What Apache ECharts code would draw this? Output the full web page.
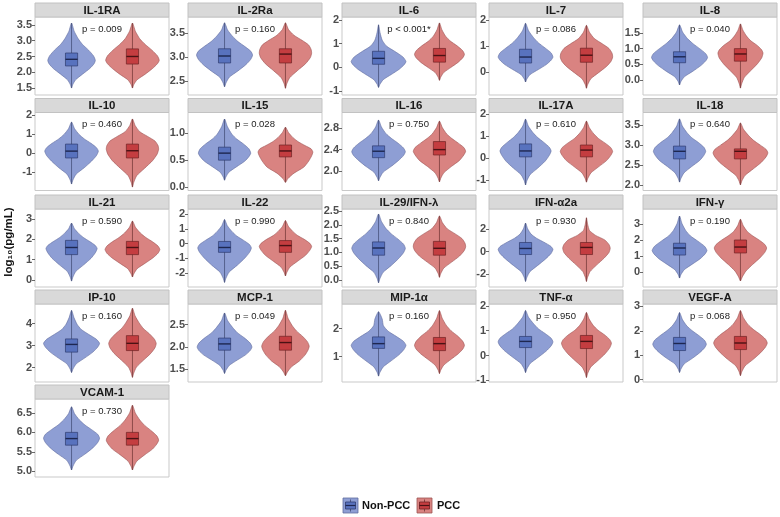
<!DOCTYPE html>
<html><head><meta charset="utf-8">
<script src="https://cdn.jsdelivr.net/npm/echarts@6/dist/echarts.min.js"></script>
<style>html,body{margin:0;padding:0;background:#fff}#c{width:780px;height:517px}</style>
</head><body><div id="c"></div>
<script>
const panels = ['IL-1RA','IL-2Ra','IL-6','IL-7','IL-8','IL-10','IL-15','IL-16','IL-17A','IL-18','IL-21','IL-22','IL-29/IFN-λ','IFN-α2a','IFN-γ','IP-10','MCP-1','MIP-1α','TNF-α','VEGF-A','VCAM-1'];
const pLabels = ['p = 0.009','p = 0.160','p < 0.001*','p = 0.086','p = 0.040','p = 0.460','p = 0.028','p = 0.750','p = 0.610','p = 0.640','p = 0.590','p = 0.990','p = 0.840','p = 0.930','p = 0.190','p = 0.160','p = 0.049','p = 0.160','p = 0.950','p = 0.068','p = 0.730'];
const groups = ['Non-PCC','PCC'];
const groupX = [1, 2];
const yMin = [1.28,2.21,-1.17,-0.88,-0.48,-1.97,-0.06,1.64,-1.48,1.86,-0.34,-2.95,-0.25,-3.16,-0.94,1.34,1.22,0.09,-1.07,-0.1,4.85];
const yMax = [3.75,3.83,2.13,2.12,2.01,2.13,1.38,3.09,2.07,3.81,3.49,2.34,2.57,3.78,3.94,4.89,2.96,2.875,2.08,3.1,6.86];
const yTickLabels = [
 ['1.5','2.0','2.5','3.0','3.5'],['2.5','3.0','3.5'],['-1','0','1','2'],['0','1','2'],['0.0','0.5','1.0','1.5'],
 ['-1','0','1','2'],['0.0','0.5','1.0'],['2.0','2.4','2.8'],['-1','0','1','2'],['2.0','2.5','3.0','3.5'],
 ['0','1','2','3'],['-2','-1','0','1','2'],['0.0','0.5','1.0','1.5','2.0','2.5'],['-2','0','2'],['0','1','2','3'],
 ['2','3','4'],['1.5','2.0','2.5'],['1','2'],['-1','0','1','2'],['0','1','2','3'],['5.0','5.5','6.0','6.5']
];
// violin outlines: log10 levels (bottom tip -> top tip) and half-widths, Non-PCC
const nonLevels = [
 [1.5,1.61,1.76,1.94,2.12,2.27,2.38,2.52,2.70,2.88,3.06,3.30,3.56],
 [2.38,2.46,2.58,2.71,2.84,2.95,3.04,3.12,3.22,3.32,3.43,3.56,3.71],
 [-0.85,-0.72,-0.52,-0.30,-0.08,0.11,0.25,0.44,0.67,0.90,1.15,1.46,1.8],
 [-0.38,-0.26,-0.09,0.10,0.29,0.46,0.58,0.74,0.93,1.13,1.33,1.59,1.88],
 [-0.16,-0.05,0.10,0.28,0.46,0.61,0.72,0.84,1.0,1.16,1.32,1.53,1.76],
 [-1.63,-1.42,-1.11,-0.77,-0.42,-0.13,0.1,0.28,0.51,0.74,0.99,1.29,1.63],
 [0.13,0.19,0.28,0.38,0.48,0.565,0.63,0.71,0.80,0.89,0.98,1.12,1.26],
 [1.82,1.88,1.98,2.09,2.2,2.29,2.36,2.43,2.52,2.61,2.7,2.82,2.95],
 [-1.23,-1.04,-0.77,-0.46,-0.15,0.12,0.32,0.49,0.71,0.93,1.16,1.45,1.77],
 [2.07,2.16,2.3,2.46,2.61,2.74,2.84,2.94,3.06,3.18,3.31,3.47,3.65],
 [-0.05,0.14,0.43,0.75,1.07,1.34,1.55,1.7,1.89,2.08,2.28,2.53,2.8],
 [-2.64,-2.36,-1.94,-1.47,-1.0,-0.6,-0.3,-0.07,0.22,0.51,0.82,1.21,1.63],
 [-0.1,0.05,0.28,0.53,0.78,0.99,1.15,1.3,1.48,1.67,1.87,2.12,2.39],
 [-2.67,-2.33,-1.81,-1.24,-0.66,-0.17,0.2,0.48,0.83,1.18,1.55,2.02,2.53],
 [-0.38,-0.17,0.14,0.49,0.83,1.13,1.35,1.61,1.93,2.25,2.6,3.03,3.5],
 [1.77,1.93,2.17,2.44,2.7,2.93,3.1,3.28,3.51,3.73,3.97,4.27,4.6],
 [1.41,1.48,1.59,1.71,1.82,1.92,2.0,2.09,2.21,2.32,2.44,2.59,2.76],
 [0.3,0.43,0.63,0.85,1.07,1.26,1.4,1.54,1.72,1.9,2.1,2.34,2.6],
 [-0.69,-0.54,-0.32,-0.07,0.18,0.39,0.55,0.7,0.89,1.08,1.29,1.54,1.82],
 [0.29,0.43,0.64,0.87,1.1,1.3,1.45,1.61,1.8,2.0,2.2,2.46,2.75],
 [5.03,5.13,5.28,5.44,5.60,5.74,5.85,5.95,6.07,6.19,6.32,6.48,6.66]
];
const nonWidths = [
 [0,0.02,0.066,0.18,0.30,0.37,0.39,0.36,0.28,0.18,0.11,0.043,0],
 [0,0.023,0.078,0.22,0.35,0.43,0.46,0.43,0.33,0.22,0.13,0.05,0],
 [0,0.022,0.077,0.21,0.34,0.42,0.45,0.40,0.27,0.13,0.06,0.025,0],
 [0,0.022,0.077,0.21,0.34,0.42,0.45,0.42,0.32,0.21,0.13,0.05,0],
 [0,0.023,0.078,0.22,0.35,0.43,0.46,0.43,0.33,0.22,0.13,0.05,0],
 [0,0.022,0.075,0.21,0.33,0.41,0.44,0.41,0.32,0.21,0.12,0.048,0],
 [0,0.022,0.073,0.2,0.33,0.40,0.43,0.40,0.31,0.2,0.12,0.047,0],
 [0,0.022,0.075,0.21,0.33,0.41,0.44,0.41,0.32,0.21,0.12,0.048,0],
 [0,0.021,0.071,0.2,0.32,0.39,0.42,0.39,0.30,0.2,0.12,0.046,0],
 [0,0.022,0.073,0.2,0.33,0.40,0.43,0.40,0.31,0.2,0.12,0.047,0],
 [0,0.021,0.071,0.2,0.32,0.39,0.42,0.39,0.30,0.2,0.12,0.046,0],
 [0,0.022,0.075,0.21,0.33,0.41,0.44,0.41,0.31,0.2,0.12,0.045,0],
 [0,0.022,0.075,0.21,0.33,0.41,0.44,0.41,0.32,0.21,0.12,0.048,0],
 [0,0.02,0.07,0.2,0.33,0.42,0.45,0.41,0.3,0.18,0.09,0.035,0],
 [0,0.022,0.077,0.21,0.34,0.42,0.45,0.41,0.3,0.18,0.1,0.04,0],
 [0,0.023,0.078,0.22,0.35,0.43,0.46,0.41,0.28,0.16,0.09,0.04,0],
 [0,0.022,0.077,0.21,0.34,0.42,0.45,0.42,0.32,0.21,0.13,0.05,0],
 [0,0.022,0.077,0.21,0.34,0.42,0.45,0.41,0.29,0.16,0.08,0.06,0],
 [0,0.022,0.077,0.21,0.34,0.42,0.45,0.42,0.32,0.21,0.13,0.05,0],
 [0,0.022,0.075,0.21,0.33,0.41,0.44,0.41,0.32,0.21,0.12,0.048,0],
 [0,0.023,0.078,0.22,0.35,0.43,0.46,0.43,0.33,0.22,0.13,0.05,0]
];
// box: [q1, median, q3]
const nonBox = [
 [2.2,2.41,2.61],[2.875,3.02,3.17],[0.13,0.38,0.68],[0.35,0.58,0.88],[0.55,0.74,0.9],
 [-0.26,0.1,0.47],[0.5,0.63,0.74],[2.25,2.37,2.47],[0.05,0.32,0.64],[2.65,2.84,2.97],
 [1.25,1.6,1.95],[-0.6,-0.27,0.14],[0.9,1.16,1.38],[-0.27,0.27,0.8],[1.06,1.5,1.8],
 [2.7,3.05,3.3],[1.93,2.07,2.2],[1.29,1.46,1.7],[0.32,0.57,0.77],[1.19,1.48,1.73],[5.67,5.84,6.0]
];
const pccLevels = [
 [1.5,1.61,1.76,1.94,2.12,2.27,2.38,2.52,2.70,2.88,3.06,3.30,3.56],
 [2.35,2.44,2.57,2.72,2.86,2.99,3.08,3.16,3.25,3.34,3.45,3.57,3.71],
 [-0.55,-0.42,-0.22,0,0.22,0.41,0.55,0.71,0.91,1.11,1.32,1.59,1.88],
 [-0.62,-0.48,-0.26,-0.02,0.22,0.42,0.58,0.73,0.91,1.09,1.29,1.53,1.8],
 [-0.26,-0.13,0.08,0.30,0.52,0.71,0.86,0.97,1.11,1.25,1.4,1.59,1.79],
 [-1.79,-1.55,-1.19,-0.80,-0.40,-0.06,0.2,0.39,0.63,0.87,1.12,1.44,1.79],
 [0.09,0.16,0.26,0.37,0.48,0.58,0.65,0.71,0.77,0.84,0.92,1.01,1.11],
 [1.8,1.87,1.97,2.09,2.2,2.3,2.37,2.44,2.52,2.61,2.69,2.81,2.93],
 [-1.1,-0.93,-0.68,-0.4,-0.12,0.12,0.3,0.47,0.67,0.88,1.1,1.38,1.68],
 [2.0,2.1,2.24,2.4,2.56,2.7,2.8,2.89,3.0,3.12,3.24,3.39,3.55],
 [0.15,0.31,0.56,0.83,1.1,1.32,1.5,1.67,1.88,2.09,2.31,2.59,2.9],
 [-2.2,-1.96,-1.6,-1.2,-0.8,-0.46,-0.2,0.01,0.28,0.54,0.82,1.17,1.56],
 [0.1,0.23,0.43,0.65,0.87,1.06,1.2,1.33,1.5,1.67,1.85,2.07,2.32],
 [-2.67,-2.31,-1.78,-1.19,-0.59,-0.09,0.3,0.62,1.03,1.43,1.87,2.41,3.0],
 [-0.56,-0.31,0.06,0.47,0.88,1.23,1.5,1.72,1.99,2.26,2.54,2.9,3.3],
 [1.55,1.74,2.02,2.33,2.64,2.9,3.1,3.29,3.53,3.77,4.03,4.35,4.7],
 [1.36,1.44,1.56,1.69,1.82,1.93,2.02,2.12,2.24,2.36,2.48,2.64,2.82],
 [0.39,0.51,0.69,0.9,1.1,1.27,1.4,1.55,1.73,1.92,2.12,2.37,2.64],
 [-0.89,-0.72,-0.47,-0.2,0.08,0.32,0.5,0.65,0.83,1.02,1.22,1.47,1.74],
 [0.16,0.32,0.56,0.83,1.1,1.33,1.5,1.66,1.86,2.06,2.27,2.54,2.83],
 [5.03,5.12,5.26,5.42,5.57,5.70,5.8,5.91,6.04,6.18,6.32,6.5,6.7]
];
const pccWidths = [
 [0,0.022,0.075,0.21,0.33,0.41,0.44,0.41,0.32,0.21,0.12,0.048,0],
 [0,0.02,0.07,0.2,0.33,0.41,0.43,0.42,0.38,0.28,0.14,0.05,0],
 [0,0.02,0.07,0.19,0.31,0.385,0.41,0.38,0.29,0.18,0.1,0.04,0],
 [0,0.02,0.07,0.2,0.33,0.405,0.43,0.42,0.37,0.26,0.13,0.05,0],
 [0,0.018,0.063,0.17,0.28,0.35,0.37,0.345,0.27,0.17,0.1,0.04,0],
 [0,0.02,0.07,0.2,0.33,0.405,0.43,0.42,0.37,0.25,0.12,0.045,0],
 [0,0.04,0.14,0.3,0.38,0.43,0.45,0.42,0.32,0.21,0.12,0.05,0],
 [0,0.022,0.073,0.2,0.33,0.40,0.43,0.40,0.31,0.2,0.12,0.047,0],
 [0,0.022,0.073,0.2,0.33,0.40,0.43,0.40,0.31,0.2,0.12,0.047,0],
 [0,0.023,0.077,0.21,0.34,0.42,0.45,0.42,0.32,0.21,0.13,0.05,0],
 [0,0.023,0.077,0.21,0.34,0.42,0.45,0.42,0.33,0.22,0.13,0.05,0],
 [0,0.022,0.073,0.2,0.33,0.40,0.43,0.40,0.31,0.2,0.12,0.047,0],
 [0,0.02,0.07,0.2,0.33,0.405,0.43,0.42,0.37,0.26,0.13,0.05,0],
 [0,0.018,0.06,0.17,0.29,0.37,0.39,0.37,0.3,0.15,0.05,0.02,0],
 [0,0.03,0.09,0.2,0.32,0.40,0.43,0.40,0.31,0.2,0.11,0.045,0],
 [0,0.02,0.066,0.18,0.30,0.37,0.39,0.36,0.28,0.18,0.11,0.043,0],
 [0,0.03,0.1,0.23,0.32,0.37,0.39,0.36,0.28,0.18,0.11,0.043,0],
 [0,0.02,0.07,0.19,0.31,0.385,0.41,0.38,0.3,0.19,0.11,0.045,0],
 [0,0.02,0.07,0.19,0.31,0.385,0.41,0.38,0.3,0.19,0.11,0.045,0],
 [0,0.022,0.075,0.21,0.33,0.41,0.44,0.41,0.32,0.21,0.12,0.048,0],
 [0,0.022,0.073,0.2,0.33,0.40,0.43,0.40,0.31,0.2,0.12,0.047,0]
];
const pccBox = [
 [2.26,2.5,2.74],[2.875,3.06,3.17],[0.22,0.5,0.8],[0.38,0.65,0.92],[0.6,0.83,1.0],
 [-0.26,0.12,0.47],[0.56,0.67,0.78],[2.3,2.4,2.55],[0.05,0.36,0.59],[2.65,2.84,2.9],
 [1.25,1.6,1.9],[-0.6,-0.14,0.2],[0.9,1.15,1.4],[-0.27,0.36,0.8],[1.19,1.56,2.0],
 [2.77,3.1,3.45],[1.93,2.1,2.24],[1.21,1.46,1.68],[0.28,0.57,0.81],[1.23,1.5,1.77],[5.67,5.84,6.0]
];

// ---- layout & style ----
const FONT = "'Liberation Sans', Arial, sans-serif";
const colLeft = [35, 188, 342, 489, 643];
const rowTop = [3, 98.5, 195, 290, 385];
const PW = 134, SH = 14, PH = 78, BOXW = 0.1;
const colors = [
  {violin:'#8E9ED4', edge:'#5F6C9E', box:'#5872BE', boxEdge:'#2E3B6E', median:'#1E2750', whisker:'#3E4870'},
  {violin:'#D98381', edge:'#9C5352', box:'#C43D40', boxEdge:'#6E2224', median:'#4A1214', whisker:'#6E3232'}
];

const levelsOf = [nonLevels, pccLevels], widthsOf = [nonWidths, pccWidths], boxOf = [nonBox, pccBox];

function renderViolin(params, api) {
  const x = api.value(0), p = api.value(1), g = api.value(2);
  const lev = levelsOf[g][p], wid = widthsOf[g][p], box = boxOf[g][p];
  const pts = [];
  for (let k = 0; k < lev.length; k++) pts.push(api.coord([x + wid[k], lev[k]]));
  for (let k = lev.length - 2; k >= 1; k--) pts.push(api.coord([x - wid[k], lev[k]]));
  const c = colors[g];
  const tl = api.coord([x - BOXW, box[2]]), br = api.coord([x + BOXW, box[0]]);
  const m1 = api.coord([x - BOXW, box[1]]), m2 = api.coord([x + BOXW, box[1]]);
  const top = api.coord([x, lev[lev.length - 1]]), bot = api.coord([x, lev[0]]);
  return {type:'group', children:[
    {type:'polygon', shape:{points:pts, smooth:0.2}, style:{fill:c.violin, stroke:c.edge, lineWidth:0.6}},
    {type:'line', shape:{x1:top[0], y1:top[1], x2:bot[0], y2:bot[1]}, style:{stroke:c.whisker, lineWidth:0.7}},
    {type:'rect', shape:{x:tl[0], y:tl[1], width:br[0]-tl[0], height:br[1]-tl[1]}, style:{fill:c.box, stroke:c.boxEdge, lineWidth:0.7}},
    {type:'line', shape:{x1:m1[0], y1:m1[1], x2:m2[0], y2:m2[1]}, style:{stroke:c.median, lineWidth:1.4}}
  ]};
}

const grid = [], xAxis = [], yAxis = [], series = [], graphic = [];
panels.forEach((name, i) => {
  const col = i % 5, row = Math.floor(i / 5);
  const left = colLeft[col], top = rowTop[row];
  const ticks = yTickLabels[i].map(Number);
  grid.push({left:left, top:top + SH, width:PW, height:PH, show:true, borderColor:'#c9c9c9', borderWidth:1, backgroundColor:'#fff'});
  xAxis.push({gridIndex:i, type:'value', min:0.4, max:2.6, show:false});
  yAxis.push({
    gridIndex:i, type:'value', min:yMin[i], max:yMax[i],
    splitLine:{show:false}, axisLine:{show:false},
    axisTick:{show:true, length:3, lineStyle:{color:'#444', width:0.8}, customValues:ticks},
    axisLabel:{customValues:ticks, margin:3, fontSize:11, fontWeight:'bold', color:'#4d4d4d', fontFamily:FONT,
      formatter: v => { const j = ticks.findIndex(t => Math.abs(t - v) < 1e-6); return j >= 0 ? yTickLabels[i][j] : ''; }}
  });
  series.push({type:'custom', xAxisIndex:i, yAxisIndex:i, renderItem:renderViolin, clip:false,
    encode:{x:0, y:-1},
    data: groups.map((gname, g) => [groupX[g], i, g])});
  graphic.push({type:'rect', shape:{x:left, y:top, width:PW, height:SH}, style:{fill:'#d9d9d9', stroke:'#c2c2c2', lineWidth:1}, z:10});
  graphic.push({type:'text', x:left + PW/2, y:top + SH/2 + 0.5, style:{text:name, fill:'#1a1a1a', font:'bold 11.5px ' + FONT, align:'center', verticalAlign:'middle'}, z:11});
  graphic.push({type:'text', x:left + PW/2, y:top + SH + 12, style:{text:pLabels[i], fill:'#222', font:'9.5px ' + FONT, align:'center', verticalAlign:'middle'}, z:11});
});

// y-axis title
graphic.push({type:'text', x:9, y:242, rotation:Math.PI/2, style:{text:'log₁₀(pg/mL)', fill:'#111', font:'bold 11.5px ' + FONT, align:'center', verticalAlign:'middle'}});

// legend
const legendX = [343, 417], legendTextX = [362, 437];
groups.forEach((gname, g) => {
  const c = colors[g], x0 = legendX[g], y0 = 498;
  graphic.push({type:'rect', shape:{x:x0, y:y0, width:15, height:15}, style:{fill:c.violin, stroke:c.edge, lineWidth:0.8}});
  graphic.push({type:'line', shape:{x1:x0+7.5, y1:y0+1.5, x2:x0+7.5, y2:y0+13.5}, style:{stroke:c.whisker, lineWidth:0.8}});
  graphic.push({type:'rect', shape:{x:x0+2.5, y:y0+4, width:10, height:7}, style:{fill:c.box, stroke:c.boxEdge, lineWidth:0.8}});
  graphic.push({type:'line', shape:{x1:x0+2.5, y1:y0+7.5, x2:x0+12.5, y2:y0+7.5}, style:{stroke:c.median, lineWidth:1.2}});
  graphic.push({type:'text', x:legendTextX[g], y:y0 + 8, style:{text:gname, fill:'#111', font:'bold 11px ' + FONT, align:'left', verticalAlign:'middle'}});
});

const chart = echarts.init(document.getElementById('c'), null, {renderer:'canvas'});
chart.setOption({animation:false, backgroundColor:'#fff', grid, xAxis, yAxis, series, graphic});
</script>
</body></html>
